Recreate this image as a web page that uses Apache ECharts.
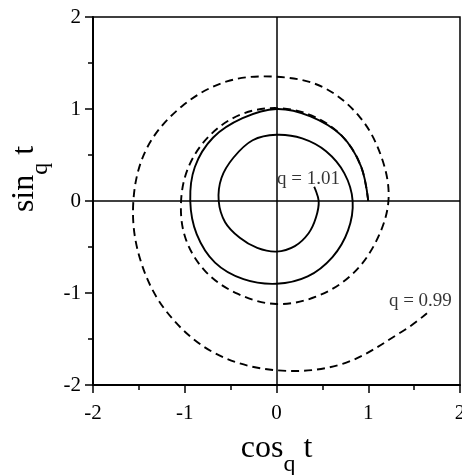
<!DOCTYPE html>
<html>
<head>
<meta charset="utf-8">
<style>
  html, body { margin: 0; padding: 0; background: #fff; }
  #chart { width: 462px; height: 475px; }
</style>
<script src="https://cdn.jsdelivr.net/npm/echarts@6/dist/echarts.min.js"></script>
</head>
<body>
<div id="chart"></div>
<script>
// q = 1.01 spiral (solid), points read every 22.5 degrees from t = 0
const spiralQ101 = [
    [1.00, 0.00], [0.92, 0.38], [0.71, 0.71], [0.37, 0.92],
    [0.00, 1.00], [-0.37, 0.90], [-0.69, 0.69], [-0.89, 0.37],
    [-0.94, 0.00], [-0.87, -0.36], [-0.67, -0.67], [-0.36, -0.85],
    [0.00, -0.90], [0.34, -0.82], [0.61, -0.61], [0.78, -0.32],
    [0.83, 0.00], [0.74, 0.30], [0.54, 0.54], [0.28, 0.68],
    [0.00, 0.72], [-0.26, 0.66], [-0.47, 0.47], [-0.60, 0.25],
    [-0.63, 0.00], [-0.56, -0.23], [-0.40, -0.40], [-0.21, -0.51],
    [0.00, -0.55], [0.20, -0.49], [0.35, -0.35], [0.43, -0.18],
    [0.46, 0.00], [0.41, 0.155],
];

// q = 0.99 spiral (dashed)
const spiralQ099 = [
    [1.00, 0.00], [0.92, 0.38], [0.71, 0.71], [0.38, 0.93],
    [0.00, 1.01], [-0.39, 0.94], [-0.72, 0.72], [-0.95, 0.39],
    [-1.04, 0.00], [-0.99, -0.41], [-0.77, -0.77], [-0.42, -1.01],
    [0.00, -1.12], [0.43, -1.04], [0.81, -0.81], [1.08, -0.45],
    [1.22, 0.00], [1.15, 0.46], [0.91, 0.91], [0.50, 1.24],
    [0.00, 1.35], [-0.54, 1.30], [-1.03, 1.03], [-1.41, 0.58],
    [-1.56, 0.00], [-1.49, -0.62], [-1.20, -1.20], [-0.68, -1.65],
    [0.00, -1.84], [0.72, -1.77], [1.40, -1.40], [1.64, -1.22],
];

const curveLabels = [
    { text: "q = 1.01", at: [0.005, 0.235] },
    { text: "q = 0.99", at: [1.225, -1.09] },
];

const axisMin = -2;
const axisMax = 2;

const serif = "Liberation Serif";

function axisName(fn) {
    return `{a|${fn}}{b|q}{a| t}`;
}

function nameRich() {
    return {
        a: { fontFamily: serif, fontSize: 32, lineHeight: 36, verticalAlign: "top", color: "#000" },
        b: { fontFamily: serif, fontSize: 24, lineHeight: 24, padding: [20, 0, 0, 0], verticalAlign: "top", color: "#000" },
    };
}

function makeAxis(name, nameGap, namePadding, labelMargin, rotate) {
    return {
        type: "value",
        min: axisMin,
        max: axisMax,
        interval: 1,
        name: name,
        nameLocation: "middle",
        nameGap: nameGap,
        nameRotate: rotate,
        nameTextStyle: { rich: nameRich(), padding: namePadding },
        axisLine: { onZero: false, lineStyle: { color: "#000", width: 2 } },
        axisTick: { length: 8, lineStyle: { color: "#000", width: 1.5 } },
        minorTick: { show: true, splitNumber: 2, length: 5, lineStyle: { color: "#000", width: 1.5 } },
        splitLine: { show: false },
        minorSplitLine: { show: false },
        axisLabel: { color: "#000", fontFamily: serif, fontSize: 21, margin: labelMargin },
    };
}

// one smooth path through all points of a curve, placed with the axes' scales
function spiralSeries(name, points, dash) {
    return {
        name: name,
        type: "custom",
        data: points,
        encode: { x: 0, y: 1 },
        renderItem: (params, api) => {
            if (params.dataIndex !== 0) {
                return null;
            }
            return {
                type: "polyline",
                shape: {
                    points: points.map((p) => api.coord(p)),
                    smooth: 0.35,
                },
                style: {
                    fill: null,
                    stroke: "#000",
                    lineWidth: 1.9,
                    lineDash: dash,
                },
            };
        },
    };
}

const chart = echarts.init(document.getElementById("chart"), null, { renderer: "canvas" });

const solid = spiralSeries("q = 1.01", spiralQ101, null);
solid.markLine = {
    silent: true,
    symbol: "none",
    label: { show: false },
    lineStyle: { color: "#000", width: 1.5, type: "solid" },
    data: [{ xAxis: 0 }, { yAxis: 0 }],
};

chart.setOption({
    animation: false,
    backgroundColor: "#fff",
    grid: {
        left: 93, right: 2, top: 17, bottom: 90,
        outerBoundsMode: "none",
        containLabel: false,
        show: true, borderColor: "#000", borderWidth: 1.5,
    },
    xAxis: makeAxis(axisName("cos"), 48, 0, 18, 0),
    yAxis: makeAxis(axisName("sin"), 40, [0, 0, 0, 44], 12, 90),
    series: [
        solid,
        spiralSeries("q = 0.99", spiralQ099, [8, 5]),
        {
            type: "scatter",
            symbolSize: 0,
            data: curveLabels.map((l) => ({ value: l.at, name: l.text })),
            label: {
                show: true,
                position: "right",
                distance: 0,
                formatter: (p) => p.name,
                color: "#000",
                fontFamily: serif,
                fontSize: 19,
            },
        },
    ],
});
</script>
</body>
</html>
